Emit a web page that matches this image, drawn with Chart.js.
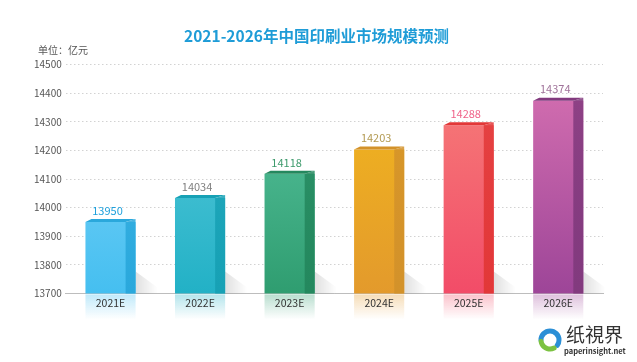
<!DOCTYPE html>
<html>
<head>
<meta charset="utf-8">
<script src="https://cdn.jsdelivr.net/npm/chart.js@4/dist/chart.umd.min.js"></script>
<style>
  html, body { margin: 0; padding: 0; background: #fff; }
  #wrap { width: 637px; height: 362px; }
</style>
</head>
<body>
<div id="wrap"><canvas id="chart" width="637" height="362"></canvas></div>
<script>
var CATEGORIES = ['2021E', '2022E', '2023E', '2024E', '2025E', '2026E'];
var VALUES = [13950, 14034, 14118, 14203, 14288, 14374];
var Y_MIN = 13700;
var Y_MAX = 14500;
var Y_STEP = 100;

var TITLE = '2021-2026年中国印刷业市场规模预测';
var UNIT = '单位：亿元';

// front face top/bottom, side face, value label colour
var FRONT_TOP = ['#86d6fa', '#5fcbdc', '#5cc7a4', '#f3b91c', '#f6817a', '#d872b2'];
var FRONT_BOTTOM = ['#45bff0', '#22b1c6', '#2f9d70', '#e39a2c', '#f24c68', '#9d4598'];
var SIDE_COLORS = ['#2aa8dc', '#17a1b5', '#24885e', '#d3922a', '#e23838', '#823a7e'];
var LABEL_COLORS = ['#1ea0dc', '#808080', '#3d9a6c', '#b39a52', '#f0648a', '#a0739a'];

var FONT = '"Noto Sans CJK SC", "Noto Sans", sans-serif';

function frontGradient(context) {
    var chart = context.chart;
    var area = chart.chartArea;
    var i = context.dataIndex;
    if (!area) return FRONT_BOTTOM[i];
    var g = chart.ctx.createLinearGradient(0, area.top, 0, area.bottom);
    g.addColorStop(0, FRONT_TOP[i]);
    g.addColorStop(1, FRONT_BOTTOM[i]);
    return g;
}

function hexA(hex, a) {
    var n = parseInt(hex.slice(1), 16);
    return 'rgba(' + (n >> 16) + ',' + ((n >> 8) & 255) + ',' + (n & 255) + ',' + a + ')';
}

var bar3d = {
    id: 'bar3d',
    beforeDraw: function (chart) {
        // reflections under the floor
        var ctx = chart.ctx;
        var floor = chart.chartArea.bottom;
        var meta = chart.getDatasetMeta(0);
        ctx.save();
        meta.data.forEach(function (bar, i) {
            var l = bar.x - bar.width / 2, r = bar.x + bar.width / 2;
            var g = ctx.createLinearGradient(0, floor, 0, floor + 26);
            g.addColorStop(0, hexA(FRONT_BOTTOM[i], 0.35));
            g.addColorStop(1, hexA(FRONT_BOTTOM[i], 0));
            ctx.fillStyle = g;
            ctx.fillRect(l, floor + 1, r - l, 26);
        });
        ctx.restore();
    },
    beforeDatasetsDraw: function (chart) {
        // soft floor shadow to the right of each bar
        var ctx = chart.ctx;
        var floor = chart.chartArea.bottom;
        var meta = chart.getDatasetMeta(0);
        ctx.save();
        meta.data.forEach(function (bar) {
            var r = bar.x + bar.width / 2;
            var g = ctx.createLinearGradient(r, 0, r + 22, 0);
            g.addColorStop(0, 'rgba(0,0,0,0.12)');
            g.addColorStop(1, 'rgba(0,0,0,0)');
            ctx.fillStyle = g;
            ctx.beginPath();
            ctx.moveTo(r, floor - 22);
            ctx.lineTo(r + 22, floor - 6);
            ctx.lineTo(r + 24, floor);
            ctx.lineTo(r, floor);
            ctx.closePath();
            ctx.fill();
        });
        ctx.restore();
    },
    afterDatasetsDraw: function (chart) {
        var ctx = chart.ctx;
        var floor = chart.chartArea.bottom;
        var meta = chart.getDatasetMeta(0);
        var side = 10, rise = 3, skew = 6;
        ctx.save();
        meta.data.forEach(function (bar, i) {
            var l = bar.x - bar.width / 2, r = bar.x + bar.width / 2;
            var f = r - side;
            // side face
            var g = ctx.createLinearGradient(0, bar.y, 0, floor);
            g.addColorStop(0, hexA(SIDE_COLORS[i], 0.85));
            g.addColorStop(1, SIDE_COLORS[i]);
            ctx.fillStyle = g;
            ctx.beginPath();
            ctx.moveTo(f, bar.y);
            ctx.lineTo(r, bar.y - rise);
            ctx.lineTo(r, floor);
            ctx.lineTo(f, floor);
            ctx.closePath();
            ctx.fill();
            // top face
            ctx.fillStyle = SIDE_COLORS[i];
            ctx.beginPath();
            ctx.moveTo(l, bar.y);
            ctx.lineTo(l + skew, bar.y - rise);
            ctx.lineTo(r, bar.y - rise);
            ctx.lineTo(f, bar.y);
            ctx.closePath();
            ctx.fill();
            // value label
            ctx.fillStyle = LABEL_COLORS[i];
            ctx.font = '11px ' + FONT;
            ctx.textAlign = 'center';
            ctx.textBaseline = 'bottom';
            ctx.fillText(String(VALUES[i]), bar.x - 3, bar.y - 6);
        });
        ctx.restore();
    },
    afterDraw: function (chart) {
        var ctx = chart.ctx;
        var area = chart.chartArea;
        ctx.save();
        // unit
        ctx.fillStyle = '#555';
        ctx.font = '10px ' + FONT;
        ctx.textAlign = 'left';
        ctx.textBaseline = 'middle';
        ctx.fillText(UNIT, 38, area.top - 14);
        // watermark
        var cx = 550, cy = 340;
        ctx.lineWidth = 5;
        ctx.lineCap = 'round';
        ctx.strokeStyle = '#2b8fd6';
        ctx.beginPath();
        ctx.arc(cx, cy, 9, Math.PI * 1.0, Math.PI * 2.2);
        ctx.stroke();
        ctx.strokeStyle = '#7cc242';
        ctx.beginPath();
        ctx.arc(cx, cy, 9, Math.PI * 0.35, Math.PI * 0.95);
        ctx.stroke();
        ctx.fillStyle = '#333';
        ctx.font = '19px ' + FONT;
        ctx.textBaseline = 'alphabetic';
        ctx.fillText('纸視界', 566, 342);
        ctx.font = 'bold 7.5px ' + FONT;
        ctx.fillText('paperinsight.net', 564, 354);
        ctx.restore();
    }
};

new Chart(document.getElementById('chart'), {
    type: 'bar',
    data: {
        labels: CATEGORIES,
        datasets: [{
            data: VALUES,
            backgroundColor: frontGradient,
            borderWidth: 0,
            categoryPercentage: 1,
            barPercentage: 0.56
        }]
    },
    options: {
        responsive: false,
        animation: false,
        devicePixelRatio: 1,
        layout: { padding: { left: 30, right: 34, top: 0, bottom: 50 } },
        plugins: {
            legend: { display: false },
            tooltip: { enabled: false },
            title: {
                display: true,
                text: TITLE,
                color: '#1e9cd7',
                font: { family: FONT, size: 15.5, weight: 'bold' },
                padding: { top: 27, bottom: 19 }
            }
        },
        scales: {
            x: {
                grid: { display: false, drawTicks: false },
                border: { display: true, color: '#bdbdbd', width: 1 },
                ticks: { color: '#333', font: { family: FONT, size: 10.5 }, padding: 3 }
            },
            y: {
                min: Y_MIN,
                max: Y_MAX,
                ticks: {
                    stepSize: Y_STEP,
                    color: '#555',
                    font: { family: FONT, size: 10 },
                    padding: 4,
                    callback: function (v) { return String(v); }
                },
                grid: { color: '#d2d2d2', drawTicks: false, lineWidth: 1 },
                border: { display: false, dash: [1.5, 2.5] }
            }
        }
    },
    plugins: [bar3d]
});
</script>
</body>
</html>
